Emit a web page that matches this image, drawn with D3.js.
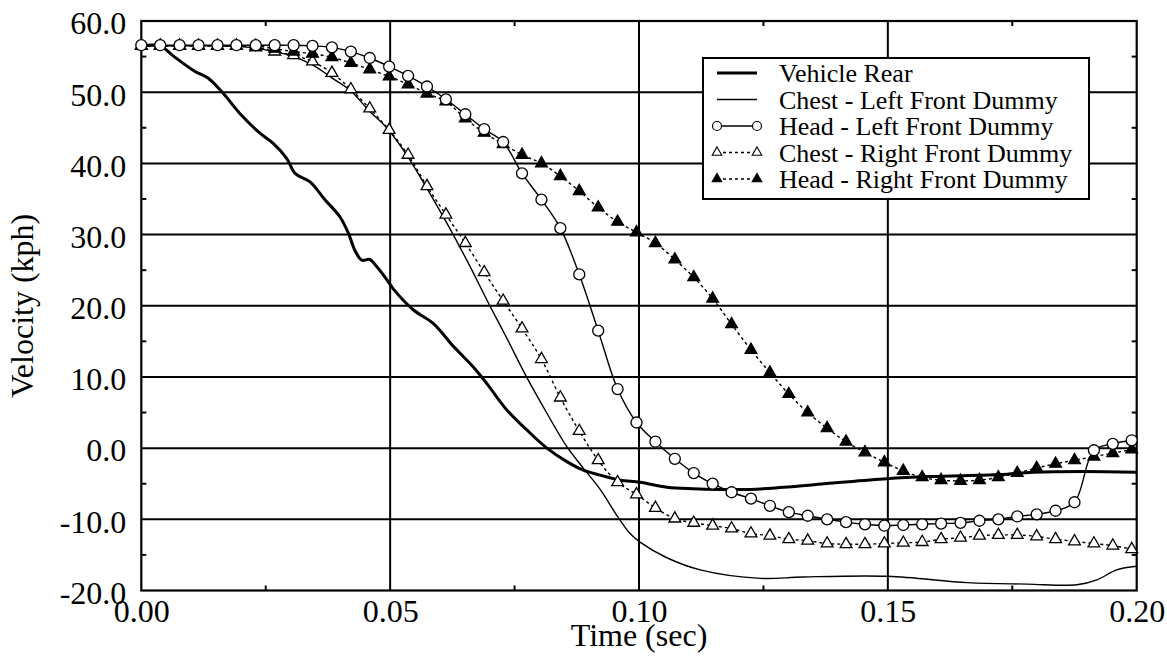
<!DOCTYPE html>
<html><head><meta charset="utf-8">
<script src="https://cdn.jsdelivr.net/npm/d3@7"></script>
<style>body{margin:0;background:#fff}svg{display:block}</style>
</head><body><svg id="c" width="1167" height="658"></svg>
<script>
// ---- data ----
const xTicks = [0, 0.05, 0.10, 0.15, 0.20];
const xTickLabels = ["0.00", "0.05", "0.10", "0.15", "0.20"];
const yTicks = [-20, -10, 0, 10, 20, 30, 40, 50, 60];
const yTickLabels = ["-20.0", "-10.0", "0.0", "10.0", "20.0", "30.0", "40.0", "50.0", "60.0"];
const seriesNames = ["Vehicle Rear", "Chest - Left Front Dummy", "Head - Left Front Dummy", "Chest - Right Front Dummy", "Head - Right Front Dummy"];

const vehicleRearT = [0, 0.0038, 0.0064, 0.0108, 0.0134, 0.0165, 0.0198, 0.0239, 0.0265, 0.0292, 0.0309, 0.0339, 0.0369, 0.0399, 0.0416, 0.0429, 0.0443, 0.0459, 0.0473, 0.0500, 0.0507, 0.0547, 0.0587, 0.0627, 0.0667, 0.0694, 0.0734, 0.0774, 0.0815, 0.0855, 0.0888, 0.0922, 0.0962, 0.1002, 0.1056, 0.1109, 0.1223, 0.1290, 0.1390, 0.1498, 0.1585, 0.1725, 0.1792, 0.1893, 0.2000];
const vehicleRearV = [56.5, 56.5, 55.1, 52.9, 52.0, 49.8, 47.0, 44.2, 42.8, 40.7, 38.6, 37.4, 34.9, 32.5, 30.2, 27.8, 26.4, 26.5, 25.5, 23.0, 22.3, 19.4, 17.5, 14.3, 11.4, 9.1, 5.4, 2.6, 0.0, -1.9, -3.1, -3.8, -4.5, -4.8, -5.5, -5.7, -5.8, -5.5, -4.9, -4.3, -4.0, -3.7, -3.4, -3.3, -3.4];

const chestLeftT = [0, 0.0150, 0.0200, 0.0268, 0.0306, 0.0345, 0.0383, 0.0419, 0.0459, 0.0493, 0.0533, 0.0573, 0.0614, 0.0654, 0.0701, 0.0734, 0.0774, 0.0815, 0.0855, 0.0888, 0.0922, 0.0955, 0.0982, 0.1002, 0.1056, 0.1123, 0.1244, 0.1330, 0.1500, 0.1660, 0.1780, 0.1880, 0.1920, 0.1960, 0.2000];
const chestLeftV = [56.5, 56.5, 56.4, 55.7, 55.0, 53.8, 52.0, 50.3, 47.3, 45.0, 41.2, 36.6, 31.6, 26.4, 19.9, 15.5, 10.0, 4.9, 0.2, -2.8, -5.8, -9.4, -12.0, -13.2, -15.4, -17.1, -18.3, -18.1, -18.0, -18.9, -19.1, -19.2, -18.5, -17.1, -16.6];

// sample times shared by the three marked series
const markT = [0, 0.0038, 0.0077, 0.0115, 0.0153, 0.0191, 0.0230, 0.0268, 0.0306, 0.0344, 0.0383, 0.0421, 0.0459, 0.0498, 0.0536, 0.0574, 0.0612, 0.0651, 0.0689, 0.0727, 0.0765, 0.0804, 0.0842, 0.0880, 0.0918, 0.0957, 0.0995, 0.1033, 0.1072, 0.1110, 0.1148, 0.1186, 0.1225, 0.1263, 0.1301, 0.1339, 0.1378, 0.1416, 0.1454, 0.1493, 0.1531, 0.1569, 0.1607, 0.1646, 0.1684, 0.1722, 0.1760, 0.1799, 0.1837, 0.1875, 0.1914, 0.1952, 0.1990];
const headLeftV = [56.6, 56.6, 56.6, 56.6, 56.6, 56.6, 56.6, 56.6, 56.6, 56.5, 56.3, 55.7, 54.8, 53.6, 52.3, 50.8, 49.0, 46.9, 44.8, 43.0, 38.6, 34.9, 30.9, 24.4, 16.5, 8.3, 3.6, 0.9, -1.5, -3.5, -5.0, -6.2, -7.1, -8.1, -9.0, -9.5, -10.0, -10.4, -10.7, -10.9, -10.8, -10.7, -10.6, -10.5, -10.2, -10.0, -9.6, -9.3, -8.8, -7.6, -0.3, 0.6, 1.1];
const chestRightV = [56.5, 56.5, 56.5, 56.5, 56.5, 56.5, 56.3, 55.7, 55.2, 54.3, 52.7, 50.4, 47.7, 44.7, 41.2, 36.8, 32.8, 28.8, 24.7, 20.7, 16.8, 12.5, 7.1, 2.4, -1.7, -4.8, -6.5, -8.4, -9.9, -10.5, -10.9, -11.3, -12.0, -12.3, -12.8, -13.0, -13.4, -13.5, -13.5, -13.4, -13.3, -13.2, -12.8, -12.6, -12.3, -12.2, -12.2, -12.4, -12.8, -13.1, -13.4, -13.7, -14.2];
const headRightV = [56.5, 56.5, 56.5, 56.5, 56.5, 56.5, 56.5, 56.1, 55.7, 55.4, 54.9, 54.1, 53.2, 52.2, 51.1, 49.8, 48.7, 46.3, 44.3, 42.7, 41.2, 40.0, 38.2, 36.1, 33.8, 31.8, 30.3, 28.8, 26.5, 24.0, 21.0, 17.4, 13.8, 10.6, 7.6, 5.0, 2.8, 0.9, -0.6, -2.0, -3.2, -4.1, -4.5, -4.6, -4.5, -4.1, -3.5, -2.8, -2.2, -1.7, -1.2, -0.7, -0.2];

// ---- layout ----
const FONT = "Liberation Serif";
const L = 141.3, R = 1136.7, T = 21, B = 590.5;
const svg = d3.select("#c");
const x = d3.scaleLinear().domain([0, 0.2]).range([L, R]);
const y = d3.scaleLinear().domain([-20, 60]).range([B, T]);

svg.append("defs").append("clipPath").attr("id", "clip")
  .append("rect").attr("x", L).attr("y", T).attr("width", R - L).attr("height", B - T);

// grid
const grid = svg.append("g").attr("stroke", "#000").attr("stroke-width", 2);
xTicks.slice(1, -1).forEach(t => grid.append("line").attr("x1", x(t)).attr("x2", x(t)).attr("y1", T).attr("y2", B));
yTicks.slice(1, -1).forEach(v => grid.append("line").attr("x1", L).attr("x2", R).attr("y1", y(v)).attr("y2", y(v)));

// minor ticks (inside)
const minorX = [0.025, 0.075, 0.125, 0.175];
const minorY = [-15, -5, 5, 15, 25, 35, 45, 55];
minorX.forEach(t => {
  grid.append("line").attr("x1", x(t)).attr("x2", x(t)).attr("y1", B).attr("y2", B - 5);
  grid.append("line").attr("x1", x(t)).attr("x2", x(t)).attr("y1", T).attr("y2", T + 5);
});
minorY.forEach(v => {
  grid.append("line").attr("x1", L).attr("x2", L + 5).attr("y1", y(v)).attr("y2", y(v));
  grid.append("line").attr("x1", R).attr("x2", R - 5).attr("y1", y(v)).attr("y2", y(v));
});

// axes via d3 (labels only)
const xAxis = d3.axisBottom(x).tickValues(xTicks).tickFormat((d, i) => xTickLabels[i]).tickSize(0).tickPadding(9);
const gx = svg.append("g").attr("transform", `translate(0,${B})`).call(xAxis);
gx.select(".domain").remove();
gx.selectAll("text").attr("fill", "#000").style("font-family", FONT).style("font-size", "32px");

const yAxis = d3.axisLeft(y).tickValues(yTicks).tickFormat((d, i) => yTickLabels[i]).tickSize(0).tickPadding(15);
const gy = svg.append("g").attr("transform", `translate(${L},0)`).call(yAxis);
gy.select(".domain").remove();
gy.selectAll("text").attr("fill", "#000").attr("dy", "0.4em").style("font-family", FONT).style("font-size", "32px");

// frame
svg.append("rect").attr("x", L).attr("y", T).attr("width", R - L).attr("height", B - T)
  .attr("fill", "none").attr("stroke", "#000").attr("stroke-width", 2.2);

// axis titles
svg.append("text").attr("x", (L + R) / 2).attr("y", 646).attr("text-anchor", "middle")
  .style("font-family", FONT).style("font-size", "32px").text("Time (sec)");
svg.append("text").attr("transform", `translate(33,${(T + B) / 2}) rotate(-90)`).attr("text-anchor", "middle")
  .style("font-family", FONT).style("font-size", "32px").text("Velocity (kph)");

// lines
const plot = svg.append("g").attr("clip-path", "url(#clip)");
const line = d3.line().x(d => x(d[0])).y(d => y(d[1])).curve(d3.curveCatmullRom.alpha(0.5));
const zip = (a, b) => a.map((t, i) => [t, b[i]]);

plot.append("path").datum(zip(vehicleRearT, vehicleRearV)).attr("d", line).attr("fill", "none").attr("stroke", "#000").attr("stroke-width", 3);
plot.append("path").datum(zip(chestLeftT, chestLeftV)).attr("d", line).attr("fill", "none").attr("stroke", "#000").attr("stroke-width", 1.4);
plot.append("path").datum(zip(markT, headLeftV)).attr("d", line).attr("fill", "none").attr("stroke", "#000").attr("stroke-width", 1.4);
plot.append("path").datum(zip(markT, chestRightV)).attr("d", line).attr("fill", "none").attr("stroke", "#000").attr("stroke-width", 1.4).attr("stroke-dasharray", "3,3");
plot.append("path").datum(zip(markT, headRightV)).attr("d", line).attr("fill", "none").attr("stroke", "#000").attr("stroke-width", 1.4).attr("stroke-dasharray", "3,3");

// markers
const tri = d3.symbol().type(d3.symbolTriangle).size(60);
const mk = svg.append("g");
function drawMarkers(vals, kind) {
  const pts = zip(markT, vals);
  if (kind === "circle") {
    mk.append("g").selectAll("circle").data(pts).join("circle")
      .attr("cx", d => x(d[0])).attr("cy", d => y(d[1])).attr("r", 5.5)
      .attr("fill", "#fff").attr("stroke", "#000").attr("stroke-width", 1.3);
  } else {
    mk.append("g").selectAll("path").data(pts).join("path")
      .attr("transform", d => `translate(${x(d[0])},${y(d[1])})`).attr("d", tri)
      .attr("fill", kind === "open" ? "#fff" : "#000").attr("stroke", "#000").attr("stroke-width", 1.3);
  }
}
drawMarkers(chestRightV, "open");
drawMarkers(headRightV, "filled");
drawMarkers(headLeftV, "circle");

// legend
const lg = svg.append("g");
lg.append("rect").attr("x", 703).attr("y", 58).attr("width", 386).attr("height", 141)
  .attr("fill", "#fff").attr("stroke", "#000").attr("stroke-width", 2);
seriesNames.forEach((name, i) => {
  const cy = 73 + i * 26.5;
  const l = lg.append("line").attr("x1", 717).attr("x2", 757).attr("y1", cy).attr("y2", cy).attr("stroke", "#000")
    .attr("stroke-width", i === 0 ? 3 : 1.4);
  if (i >= 3) l.attr("stroke-dasharray", "3,3");
  if (i === 2) {
    [717, 757].forEach(cx => lg.append("circle").attr("cx", cx).attr("cy", cy).attr("r", 4.5).attr("fill", "#fff").attr("stroke", "#000").attr("stroke-width", 1.2));
  } else if (i >= 3) {
    [717, 757].forEach(cx => lg.append("path").attr("transform", `translate(${cx},${cy})`).attr("d", d3.symbol().type(d3.symbolTriangle).size(40))
      .attr("fill", i === 3 ? "#fff" : "#000").attr("stroke", "#000").attr("stroke-width", 1.1));
  }
  lg.append("text").attr("x", 779).attr("y", cy).attr("dy", "0.35em")
    .style("font-family", FONT).style("font-size", "26px").text(name);
});
</script></body></html>
